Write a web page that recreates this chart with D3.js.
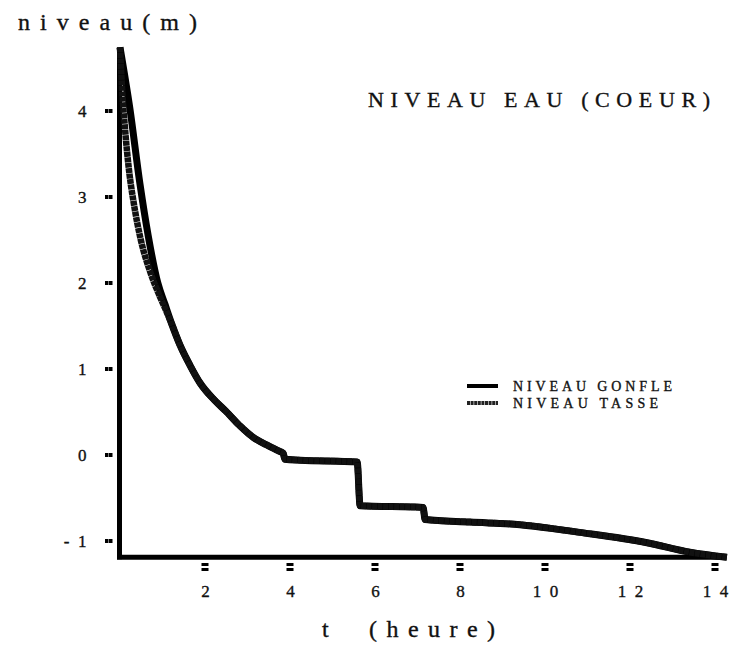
<!DOCTYPE html>
<html>
<head>
<meta charset="utf-8">
<script src="https://cdn.jsdelivr.net/npm/d3@7"></script>
<style>
  html, body { margin: 0; padding: 0; background: #fff; }
  svg { display: block; }
  text { font-family: "Liberation Serif", "DejaVu Serif", serif; fill: #111; stroke: #111; stroke-width: 0.35; }
</style>
</head>
<body>
<div id="chart"></div>
<script>
// ---- data ----
const xTicks = [2, 4, 6, 8, 10, 12, 14];
const yTicks = [-1, 0, 1, 2, 3, 4];

// early part, where the two curves differ
const tGonfleEarly = [0, 0.235, 0.47, 0.66, 0.89, 1.06];
const nGonfleEarly = [4.74, 4.02, 3.15, 2.56, 2.00, 1.75];
const tTasseEarly  = [0, 0.05, 0.12, 0.21, 0.33, 0.49, 0.71, 0.94, 1.11];
const nTasseEarly  = [4.74, 4.25, 3.78, 3.32, 2.91, 2.50, 2.13, 1.84, 1.65];

// common part, where the two curves coincide
const tCommon = [1.22, 1.41, 1.65, 1.88, 2.24, 2.49, 2.82, 3.15, 3.44, 3.72, 3.84, 3.88, 4.24, 5.58, 5.65, 7.13, 7.18, 8.24, 9.41, 10.82, 12.4, 13.41, 14.28];
const nCommon = [1.52, 1.28, 1.04, 0.84, 0.63, 0.51, 0.34, 0.20, 0.12, 0.05, 0.02, -0.05, -0.06, -0.08, -0.59, -0.61, -0.75, -0.78, -0.81, -0.90, -1.02, -1.13, -1.19];

const seriesNames = ["NIVEAU GONFLE", "NIVEAU TASSE"];

// ---- build ----
const W = 731, H = 647;
const svg = d3.select("#chart").append("svg").attr("width", W).attr("height", H);

const x = d3.scaleLinear().domain([0, 14]).range([120, 715]);
const y = d3.scaleLinear().domain([-1, 4]).range([541, 111]);

const yBase = y(-1.19);
const yTopVal = 4.74;

function zip(ts, vs) { return ts.map((t, i) => ({ t, v: vs[i] })); }
const gonfle = zip(tGonfleEarly.concat(tCommon), nGonfleEarly.concat(nCommon));
const tasse = zip(tTasseEarly.concat(tCommon), nTasseEarly.concat(nCommon));

const line = d3.line().x(d => x(d.t)).y(d => y(d.v)).curve(d3.curveMonotoneX);

// axes lines
svg.append("line")
  .attr("x1", x(0) - 0.5).attr("x2", x(0) - 0.5)
  .attr("y1", yBase + 2).attr("y2", y(yTopVal))
  .attr("stroke", "#000").attr("stroke-width", 5);
svg.append("line")
  .attr("x1", x(0) - 3).attr("x2", 722)
  .attr("y1", yBase).attr("y2", yBase)
  .attr("stroke", "#000").attr("stroke-width", 5);

// y axis labels via d3 axis
const yAxis = d3.axisLeft(y).tickValues(yTicks).tickSize(0).tickPadding(33)
  .tickFormat(d => d < 0 ? "-\u2002" + Math.abs(d) : String(d));
const gy = svg.append("g").attr("transform", `translate(${x(0) - 0.5},0)`).call(yAxis);
gy.select(".domain").remove();
gy.selectAll("text").attr("font-size", 17).attr("fill", "#111")
  .style("font-family", "'Liberation Serif', serif");

// y tick marks: two small squares
yTicks.forEach(v => {
  [105, 109].forEach(px => {
    svg.append("rect").attr("x", px).attr("y", y(v) - 2).attr("width", 3.5).attr("height", 4).attr("fill", "#000");
  });
});

// x axis labels via d3 axis
const xAxis = d3.axisBottom(x).tickValues(xTicks).tickSize(0).tickPadding(28)
  .tickFormat(d => d >= 10 ? "1\u2002" + (d % 10) : String(d));
const gx = svg.append("g").attr("transform", `translate(0,${yBase})`).call(xAxis);
gx.select(".domain").remove();
gx.selectAll("text").attr("font-size", 17).attr("fill", "#111")
  .style("font-family", "'Liberation Serif', serif");

// x tick marks: two stacked bars
xTicks.forEach(t => {
  [563, 568].forEach(py => {
    svg.append("rect").attr("x", x(t) - 3.5).attr("y", py).attr("width", 7).attr("height", 3).attr("fill", "#000");
  });
});

// curves
svg.append("path").datum(gonfle).attr("d", line)
  .attr("fill", "none").attr("stroke", "#000").attr("stroke-width", 7)
  .attr("stroke-linejoin", "round").attr("stroke-linecap", "butt");
svg.append("path").datum(tasse).attr("d", line)
  .attr("fill", "none").attr("stroke", "#111").attr("stroke-width", 6.5)
  .attr("stroke-dasharray", "5,0.5")
  .attr("stroke-linejoin", "round").attr("stroke-linecap", "butt");

// titles
svg.append("text").attr("x", 18).attr("y", 30).attr("font-size", 24)
  .attr("textLength", 179).attr("lengthAdjust", "spacing").text("niveau(m)");
svg.append("text").attr("x", 368).attr("y", 107).attr("font-size", 22)
  .attr("textLength", 342).attr("lengthAdjust", "spacing").text("NIVEAU EAU (COEUR)");
svg.append("text").attr("x", 322).attr("y", 637).attr("font-size", 24)
  .attr("xml:space", "preserve")
  .attr("textLength", 173).attr("lengthAdjust", "spacing").text("t  (heure)");

// legend
const legY = [386, 403];
seriesNames.forEach((name, i) => {
  svg.append("line").attr("x1", 467).attr("x2", 498).attr("y1", legY[i]).attr("y2", legY[i])
    .attr("stroke", i === 0 ? "#000" : "#222").attr("stroke-width", 4)
    .attr("stroke-dasharray", i === 0 ? null : "3,0.6");
  svg.append("text").attr("x", 513).attr("y", legY[i] + 5).attr("font-size", 14)
    .attr("textLength", i === 0 ? 159 : 145).attr("lengthAdjust", "spacing").text(name);
});
</script>
</body>
</html>
